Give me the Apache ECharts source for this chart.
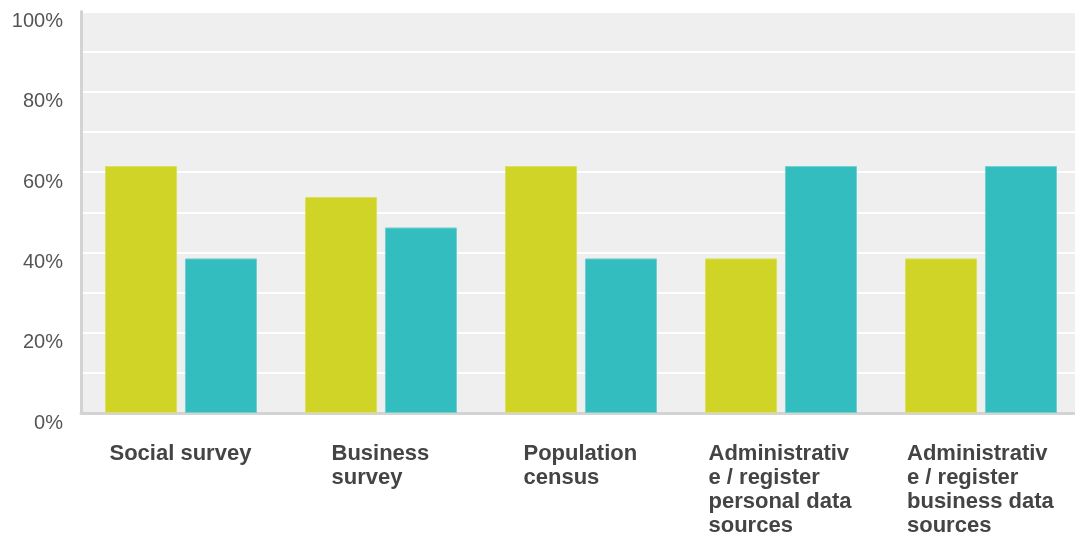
<!DOCTYPE html>
<html>
<head>
<meta charset="utf-8">
<script src="https://cdn.jsdelivr.net/npm/echarts@6/dist/echarts.min.js"></script>
<style>
html,body{margin:0;padding:0;background:#fff;overflow:hidden;}
#chart{width:1075px;height:534px;}
</style>
</head>
<body>
<div id="chart"></div>
<script>
const categories = [
  'Social survey',
  'Business\nsurvey',
  'Population\ncensus',
  'Administrativ\ne / register\npersonal data\nsources',
  'Administrativ\ne / register\nbusiness data\nsources'
];
const seriesA = [61.5, 53.8, 61.5, 38.5, 38.5];
const seriesB = [38.5, 46.2, 38.5, 61.5, 61.5];
const yTicks = [0, 20, 40, 60, 80, 100];

const catFont = 'bold 22px "Liberation Sans", Arial, Helvetica, sans-serif';
const cv = document.createElement('canvas').getContext('2d');
cv.font = catFont;
const rich = {};
categories.forEach((c, i) => {
  const w = Math.max(...c.split('\n').map(l => cv.measureText(l).width));
  rich['c' + i] = {
    width: Math.ceil(w) + 1,
    align: 'left',
    fontSize: 22,
    fontWeight: 'bold',
    fontFamily: '"Liberation Sans", Arial, Helvetica, sans-serif',
    lineHeight: 24,
    color: '#444'
  };
});

const chart = echarts.init(document.getElementById('chart'));
chart.setOption({
  animation: false,
  grid: { left: 81, right: -6, top: 11.5, bottom: 121, containLabel: false,
          outerBoundsMode: 'none',
          show: true, backgroundColor: '#efefef', borderWidth: 0 },
  xAxis: {
    type: 'category',
    data: categories,
    axisLine: { show: true, lineStyle: { color: '#d3d3d3', width: 3 } },
    axisTick: { show: false },
    axisLabel: {
      interval: 0,
      margin: 29,
      align: 'center',
      verticalAlign: 'top',
      formatter: (v, i) => v.split('\n').map(l => '{c' + i + '|' + l + '}').join('\n'),
      rich: rich
    },
    splitLine: { show: false }
  },
  yAxis: {
    type: 'value',
    min: 0, max: 100, interval: 10,
    axisLine: { show: true, lineStyle: { color: '#d3d3d3', width: 3 } },
    axisTick: { show: false },
    axisLabel: {
      margin: 18,
      fontSize: 20,
      color: '#555',
      verticalAlign: 'top',
      fontFamily: '"Liberation Sans", Arial, Helvetica, sans-serif',
      formatter: v => yTicks.includes(v) ? v + '%' : ''
    },
    splitLine: { show: true, lineStyle: { color: '#ffffff', width: 2 } }
  },
  series: [
    { type: 'bar', data: seriesA, barWidth: 72, barGap: '11%',
      itemStyle: { color: '#cfd427', borderColor: '#dbe05a', borderWidth: 1 } },
    { type: 'bar', data: seriesB, barWidth: 72,
      itemStyle: { color: '#33bdbe', borderColor: '#6fd0d0', borderWidth: 1 } }
  ]
});
</script>
</body>
</html>
